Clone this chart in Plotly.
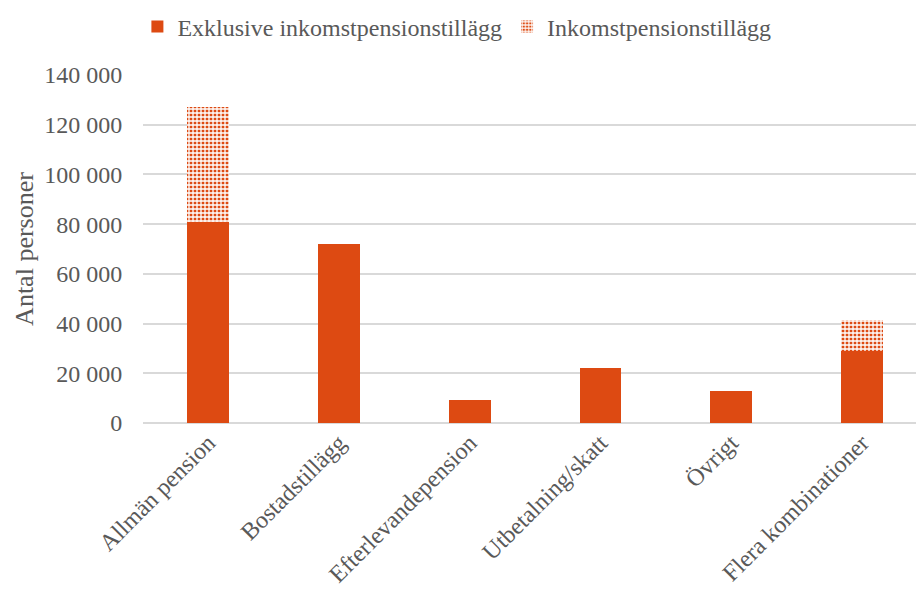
import plotly.graph_objects as go

categories = ["Allmän pension", "Bostadstillägg", "Efterlevandepension",
              "Utbetalning/skatt", "Övrigt", "Flera kombinationer"]
exklusive = [80800, 72000, 9200, 22100, 12800, 29000]
inkomst = [46500, 0, 0, 0, 0, 12300]
tick_vals = [0, 20000, 40000, 60000, 80000, 100000, 120000, 140000]
tick_text = ["0", "20 000", "40 000", "60 000", "80 000", "100 000", "120 000", "140 000"]

orange = "#DD4A12"
serif = "Liberation Serif, Times New Roman, serif"
grey = "#595959"

fig = go.Figure()
fig.add_trace(go.Bar(
    x=categories, y=exklusive, name="Exklusive inkomstpensionstillägg",
    marker=dict(color=orange, line=dict(width=0)),
))
fig.add_trace(go.Bar(
    x=categories, y=inkomst, name="Inkomstpensionstillägg",
    marker=dict(color="#F4A07E", line=dict(width=0),
                pattern=dict(shape="+", fgcolor="white", bgcolor=orange,
                             size=4, solidity=0.55, fillmode="replace")),
))

fig.update_layout(
    barmode="stack",
    bargap=0.68,
    width=916, height=590,
    paper_bgcolor="white", plot_bgcolor="white",
    margin=dict(l=143, r=0, t=75, b=167, autoexpand=False),
    font=dict(family=serif, color=grey, size=24),
    legend=dict(orientation="h", xref="container", yref="container",
                x=0.150, xanchor="left", y=1 - 27 / 590, yanchor="middle",
                font=dict(family=serif, size=24, color=grey),
                itemwidth=30, traceorder="normal"),
    xaxis=dict(range=[-0.5, 5.414], tickangle=-45, showgrid=False,
               tickfont=dict(family=serif, size=24, color=grey),
               showline=False, ticks="", automargin=False),
    yaxis=dict(range=[0, 140000], tickvals=tick_vals, ticktext=tick_text,
               showgrid=True, gridcolor="#D9D9D9", gridwidth=1.5,
               zeroline=True, zerolinecolor="#D9D9D9", zerolinewidth=1.5,
               tickfont=dict(family=serif, size=24, color=grey),
               ticks="outside", ticklen=15, tickcolor="rgba(0,0,0,0)",
               automargin=False,
               title=dict(text="Antal personer",
                          font=dict(family=serif, size=26, color=grey),
                          standoff=3)),
)

fig.write_html("out.html")
